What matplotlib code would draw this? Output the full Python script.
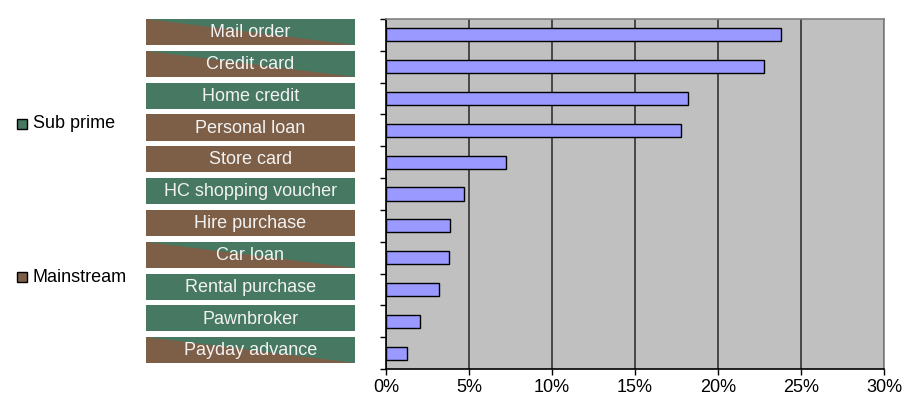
import matplotlib.pyplot as plt
from matplotlib.patches import Rectangle, Polygon

plt.rcParams['font.family'] = ['Liberation Sans', 'DejaVu Sans']

# Data
categories = ["Mail order", "Credit card", "Home credit", "Personal loan", "Store card",
              "HC shopping voucher", "Hire purchase", "Car loan", "Rental purchase",
              "Pawnbroker", "Payday advance"]
values = [23.8, 22.75, 18.2, 17.75, 7.25, 4.7, 3.85, 3.8, 3.2, 2.05, 1.25]
# segment type: "sub" = sub prime, "main" = mainstream, "mixed" = both
segment = ["mixed", "mixed", "sub", "main", "main", "sub", "main", "mixed", "sub", "sub", "mixed"]
xticks = [0, 5, 10, 15, 20, 25, 30]
xtick_labels = ["0%", "5%", "10%", "15%", "20%", "25%", "30%"]
legend_labels = ["Sub prime", "Mainstream"]

green = "#467862"
brown = "#7D5F48"
W, H = 909, 401

fig = plt.figure(figsize=(W / 100, H / 100), dpi=100)

# main bar axes
ax = fig.add_axes([386 / W, 1 - 369 / H, (884 - 386) / W, (369 - 19) / H])
n = len(categories)
pos = list(range(n))
ax.barh(pos, values, height=0.41, color="#9999FF", edgecolor="black", linewidth=1, zorder=3)
ax.set_xlim(0, 30)
ax.set_ylim(n - 0.5, -0.5)
ax.set_facecolor("#C0C0C0")
ax.set_xticks(xticks)
ax.set_xticklabels(xtick_labels, fontsize=13)
ax.set_yticks([i - 0.5 for i in range(n + 1)])
ax.set_yticklabels([])
ax.tick_params(axis="both", direction="out", length=4, width=1, color="black")
ax.tick_params(axis="x", pad=3)
ax.xaxis.grid(True, color="#333333", linewidth=1.2, zorder=1)
ax.set_axisbelow(True)
ax.spines["left"].set_color("black")
ax.spines["bottom"].set_color("black")
ax.spines["top"].set_color("#808080")
ax.spines["right"].set_color("#808080")
for s in ax.spines.values():
    s.set_linewidth(1.2)

# label boxes
lab = fig.add_axes([146 / W, 1 - 369 / H, (355 - 146) / W, (369 - 19) / H])
lab.set_xlim(0, 1)
lab.set_ylim(n - 0.5, -0.5)
lab.axis("off")
box_h = 0.82
for i, (name, seg) in enumerate(zip(categories, segment)):
    top = i - 0.5
    bot = top + box_h
    base = brown if seg == "main" else green
    lab.add_patch(Rectangle((0, top), 1, box_h, facecolor=base, edgecolor="none"))
    if seg == "mixed":
        lab.add_patch(Polygon([(0, top), (0, bot), (1, bot)], closed=True,
                              facecolor=brown, edgecolor="none"))
    lab.text(0.5, top + box_h / 2 + 0.02, name, ha="center", va="center",
             color="#F2F2F2", fontsize=13)

# legend at left
for label, col, yc in zip(legend_labels, [green, brown], [124, 277]):
    fig.patches.append(Rectangle((17 / W, 1 - (yc + 5) / H), 10 / W, 10 / H,
                                 transform=fig.transFigure, facecolor=col,
                                 edgecolor="black", linewidth=1))
    fig.text(33 / W, 1 - yc / H, label, ha="left", va="center", fontsize=13)

fig.savefig("out.png", dpi=100)
